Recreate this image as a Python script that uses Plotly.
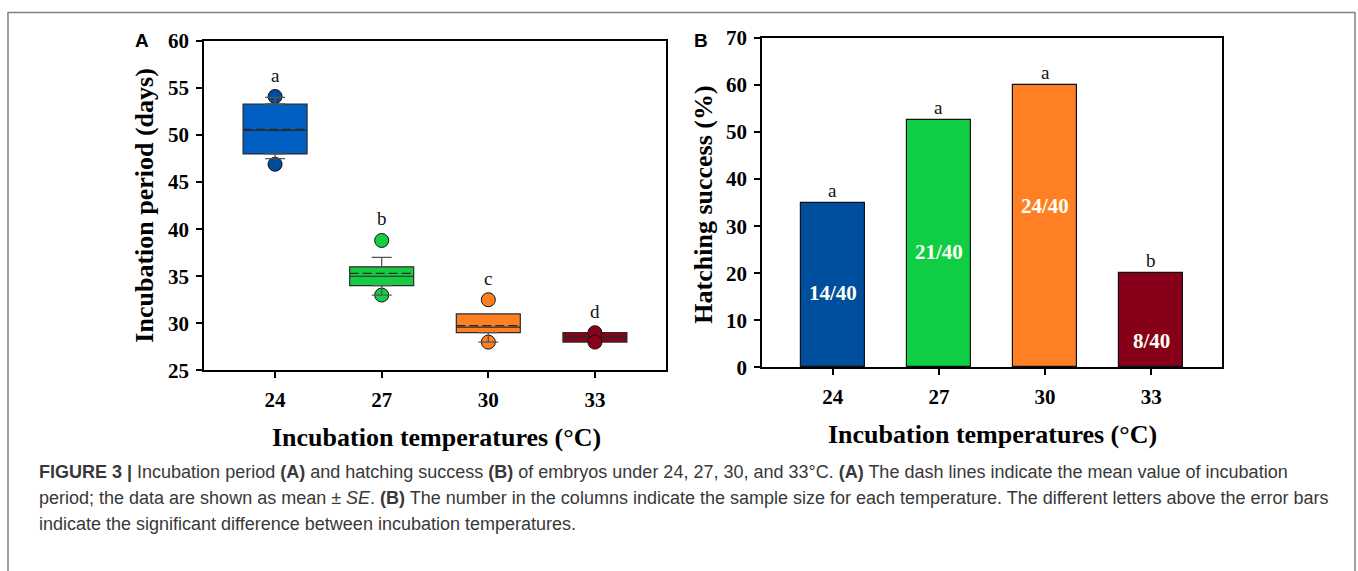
import plotly.graph_objects as go

# ---------------- data ----------------
temps = [24, 27, 30, 33]
temp_labels = ["24", "27", "30", "33"]

# Panel A: incubation period (days) box statistics
q1 = [48.0, 34.0, 29.0, 28.0]
median = [50.5, 35.0, 29.6, 28.5]
q3 = [53.3, 36.0, 31.0, 29.0]
mean = [50.6, 35.3, 29.75, 28.5]
whisker_hi = [54.0, 37.0, 31.0, 29.0]
whisker_lo = [47.5, 33.0, 28.0, 28.0]
outliers = [[54.1, 46.9], [38.8, 33.0], [32.5, 28.0], [29.0, 28.0]]
letters_a = ["a", "b", "c", "d"]

# Panel B: hatching success (%)
hatch = [35.0, 52.5, 60.0, 20.0]
sample_labels = ["14/40", "21/40", "24/40", "8/40"]
letters_b = ["a", "a", "a", "b"]

# ---------------- style ----------------
box_colors = ["#005FC0", "#16CC44", "#FF8022", "#8A0019"]
out_colors = ["#004C9A", "#16CC44", "#FF8022", "#8A0019"]
bar_colors = ["#004F9E", "#10CE44", "#FF8024", "#86001A"]
SERIF = "Liberation Serif, Times New Roman, serif"
SANS = "Liberation Sans, Arial, sans-serif"
W, H = 1358, 571
BOX_W = 1.8


def py(y):
    # target pixel row -> paper fraction (empirical vertical mapping of the viewer)
    return min(0.999, 1 - (y - 11) / 548.0)


def px(x):
    return x / W


fig = go.Figure()

# boxes
for i, t in enumerate(temps):
    fig.add_trace(go.Box(
        x=[t], q1=[q1[i]], median=[median[i]], q3=[q3[i]],
        lowerfence=[q1[i]], upperfence=[q3[i]],
        boxpoints=False, width=BOX_W,
        fillcolor=box_colors[i], line=dict(color="#2a2a2a", width=1.2),
        orientation="v", xaxis="x", yaxis="y", showlegend=False, hoverinfo="skip"))

# mean (dashed) lines across each box
for i, t in enumerate(temps):
    fig.add_trace(go.Scatter(
        x=[t - BOX_W / 2, t + BOX_W / 2], y=[mean[i], mean[i]], mode="lines",
        line=dict(color="#2a2a2a", width=1.3, dash="9px,4px"),
        xaxis="x", yaxis="y", showlegend=False, hoverinfo="skip"))

# outliers
for i, t in enumerate(temps):
    fig.add_trace(go.Scatter(
        x=[t] * len(outliers[i]), y=outliers[i], mode="markers",
        marker=dict(size=14, color=out_colors[i], line=dict(color="#111", width=1)),
        xaxis="x", yaxis="y", showlegend=False, hoverinfo="skip"))

# whiskers with caps
for i, t in enumerate(temps):
    up = whisker_hi[i] - q3[i]
    lo = q1[i] - whisker_lo[i]
    if up > 0:
        fig.add_trace(go.Scatter(
            x=[t], y=[q3[i]], mode="markers", marker=dict(size=1, opacity=0),
            error_y=dict(type="data", array=[up], arrayminus=[0], symmetric=False,
                         color="#555", thickness=1.3, width=10),
            xaxis="x", yaxis="y", showlegend=False, hoverinfo="skip"))
    if lo > 0:
        fig.add_trace(go.Scatter(
            x=[t], y=[q1[i]], mode="markers", marker=dict(size=1, opacity=0),
            error_y=dict(type="data", array=[0], arrayminus=[lo], symmetric=False,
                         color="#555", thickness=1.3, width=10),
            xaxis="x", yaxis="y", showlegend=False, hoverinfo="skip"))

# bars
fig.add_trace(go.Bar(
    x=temps, y=hatch, width=BOX_W,
    marker=dict(color=bar_colors, line=dict(color="#111", width=1.2)),
    xaxis="x2", yaxis="y2", showlegend=False, hoverinfo="skip"))

ann = []
# letters panel A
letter_a_y = [56.3, 41.1, 34.8, 31.3]
for i, t in enumerate(temps):
    ann.append(dict(x=t, y=letter_a_y[i], xref="x", yref="y", text=letters_a[i],
                    xanchor="center", yanchor="middle", showarrow=False,
                    font=dict(family=SERIF, size=19, color="#111")))
# letters panel B
for i, t in enumerate(temps):
    ann.append(dict(x=t, y=hatch[i], xref="x2", yref="y2", text=letters_b[i],
                    xanchor="center", yanchor="bottom", yshift=0, showarrow=False,
                    font=dict(family=SERIF, size=19, color="#111")))
# sample labels in bars
sample_y = [15.7, 24.5, 34.3, 5.7]
for i, t in enumerate(temps):
    ann.append(dict(x=t, y=sample_y[i], xref="x2", yref="y2", text="<b>%s</b>" % sample_labels[i],
                    xanchor="center", yanchor="middle", showarrow=False,
                    font=dict(family=SERIF, size=21, color="#FFFFF4")))

# panel letters
ann.append(dict(x=px(142), y=py(40), xref="paper", yref="paper", text="<b>A</b>",
                xanchor="center", yanchor="middle", showarrow=False,
                font=dict(family=SANS, size=19, color="#000")))
ann.append(dict(x=px(701), y=py(40), xref="paper", yref="paper", text="<b>B</b>",
                xanchor="center", yanchor="middle", showarrow=False,
                font=dict(family=SANS, size=19, color="#000")))

# axis titles
ann.append(dict(x=px(145), y=py(205), xref="paper", yref="paper", textangle=-90,
                xanchor="center", yanchor="middle",
                text="<b>Incubation period (days)</b>", showarrow=False,
                font=dict(family=SERIF, size=26, color="#000")))
ann.append(dict(x=px(704), y=py(204), xref="paper", yref="paper", textangle=-90,
                xanchor="center", yanchor="middle",
                text="<b>Hatching success (%)</b>", showarrow=False,
                font=dict(family=SERIF, size=26, color="#000")))
ann.append(dict(x=px(436), y=py(437), xref="paper", yref="paper",
                xanchor="center", yanchor="middle",
                text="<b>Incubation temperatures (°C)</b>", showarrow=False,
                font=dict(family=SERIF, size=26, color="#000")))
ann.append(dict(x=px(993), y=py(434), xref="paper", yref="paper",
                xanchor="center", yanchor="middle",
                text="<b>Incubation temperatures (°C)</b>", showarrow=False,
                font=dict(family=SERIF, size=26, color="#000")))

# caption
cap_lines = [
    "<b>FIGURE 3 |</b> Incubation period <b>(A)</b> and hatching success <b>(B)</b> of embryos under 24, 27, 30, and 33°C. <b>(A)</b> The dash lines indicate the mean value of incubation",
    "period; the data are shown as mean ± <i>SE</i>. <b>(B)</b> The number in the columns indicate the sample size for each temperature. The different letters above the error bars",
    "indicate the significant difference between incubation temperatures.",
]
cap_y = [472, 498, 524]
for line, yy in zip(cap_lines, cap_y):
    ann.append(dict(x=px(37), y=py(yy), xref="paper", yref="paper", text=line,
                    xanchor="left", yanchor="middle", showarrow=False,
                    font=dict(family=SANS, size=18, color="#383838")))

axis_common = dict(showline=True, linecolor="#000", linewidth=1.6, mirror=True,
                   ticks="outside", ticklen=6, tickwidth=1.5, tickcolor="#000",
                   showgrid=False, zeroline=False,
                   tickfont=dict(family=SERIF, size=21, color="#000"))

yA = [25, 30, 35, 40, 45, 50, 55, 60]
yB = list(range(0, 71, 10))
fig.update_layout(
    width=W, height=H, margin=dict(l=0, r=0, t=0, b=0),
    paper_bgcolor="white", plot_bgcolor="white", boxmode="overlay", bargap=0,
    xaxis=dict(domain=[px(204), px(666)], range=[22, 35], tickvals=temps,
               ticktext=["<b>%s</b>" % s for s in temp_labels], anchor="y",
               ticklabelstandoff=4, **axis_common),
    yaxis=dict(domain=[py(370), py(40)], range=[25, 60], tickvals=yA,
               ticktext=["<b>%d</b>" % v for v in yA], anchor="x",
               ticklabelstandoff=3, **axis_common),
    xaxis2=dict(domain=[px(762), px(1222)], range=[22, 35], tickvals=temps,
                ticktext=["<b>%s</b>" % s for s in temp_labels], anchor="y2",
                ticklabelstandoff=4, **axis_common),
    yaxis2=dict(domain=[py(367), py(37)], range=[0, 70], tickvals=yB,
                ticktext=["<b>%d</b>" % v for v in yB], anchor="x2",
                ticklabelstandoff=3, **axis_common),
    annotations=ann,
    shapes=[dict(type="rect", xref="paper", yref="paper", x0=px(8), x1=px(1355),
                 y0=-0.2, y1=0.999, line=dict(color="#808080", width=1.5), layer="below")],
)

fig.write_html("out.html")
